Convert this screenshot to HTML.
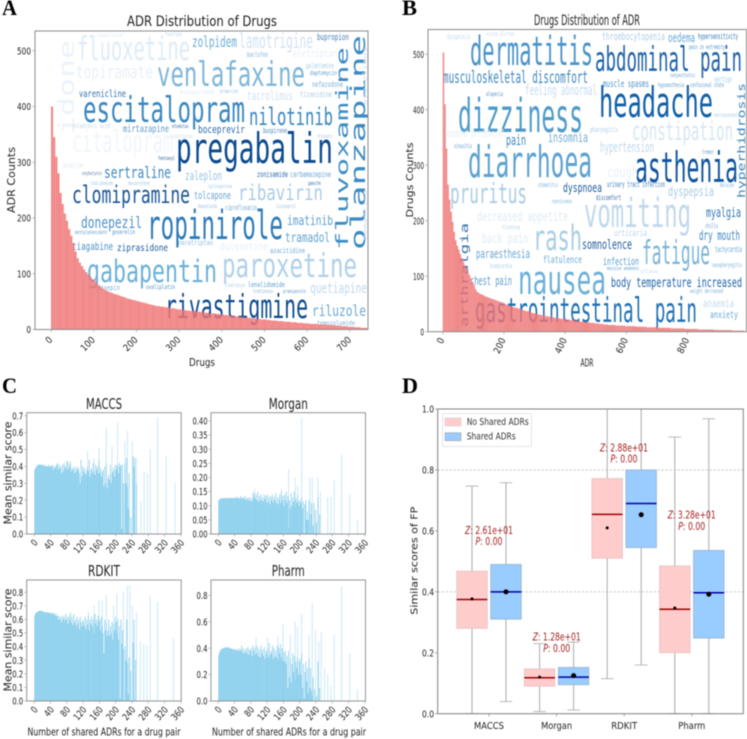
<!DOCTYPE html>
<html lang="en">
<head>
<meta charset="utf-8">
<title>ADR and drug similarity figure</title>
<style>
html,body{margin:0;padding:0;background:#fff;width:747px;height:739px;overflow:hidden}
svg{display:block;filter:blur(.4px)}
.w{font-family:"DejaVu Sans Mono","Liberation Mono",monospace}
.t{font-family:"DejaVu Sans","Liberation Sans",sans-serif}
.p{font-family:"Liberation Serif",serif;font-weight:bold;font-size:22px;fill:#000}
</style>
</head>
<body>
<svg id="figure" xmlns="http://www.w3.org/2000/svg" width="747" height="739" viewBox="0 0 747 739">
<defs>
<clipPath id="clip-a"><rect x="35" y="31" width="333" height="298.5"/></clipPath>
<clipPath id="clip-b"><rect x="428" y="29.5" width="319" height="302.2"/></clipPath>
</defs>
<rect width="747" height="739" fill="#fff"/>

<text class="p" x="2" y="15" textLength="15" lengthAdjust="spacingAndGlyphs">A</text>
<text class="p" x="402" y="15" textLength="15" lengthAdjust="spacingAndGlyphs">B</text>
<text class="p" x="2" y="393" textLength="15" lengthAdjust="spacingAndGlyphs">C</text>
<text class="p" x="402" y="393" textLength="16" lengthAdjust="spacingAndGlyphs">D</text>

<g id="cloud-a" clip-path="url(#clip-a)">
<text class="w" transform="rotate(-90 74 135)" x="74" y="135" font-size="22" fill="#ecf3fb" textLength="95" lengthAdjust="spacingAndGlyphs">idone</text>
<text class="w" x="72" y="152" font-size="30" fill="#f1f6fc" textLength="101" lengthAdjust="spacingAndGlyphs">citalopram</text>
<text class="w" x="77" y="60" font-size="33" fill="#dfecf7" textLength="113" lengthAdjust="spacingAndGlyphs">fluoxetine</text>
<text class="w" x="192" y="47" font-size="15" fill="#6baed6" textLength="45" lengthAdjust="spacingAndGlyphs">zolpidem</text>
<text class="w" x="239" y="48" font-size="20" fill="#d2e2f2" textLength="74" lengthAdjust="spacingAndGlyphs">lamotrigine</text>
<text class="w" x="317" y="40" font-size="9" fill="#3f7fb8" textLength="32" lengthAdjust="spacingAndGlyphs">bupropion</text>
<text class="w" x="157" y="86" font-size="34" fill="#7fb6d9" textLength="148" lengthAdjust="spacingAndGlyphs">venlafaxine</text>
<text class="w" x="76" y="78" font-size="18" fill="#e8f1f9" textLength="77" lengthAdjust="spacingAndGlyphs">topiramate</text>
<text class="w" x="79" y="97" font-size="10" fill="#2f6fae" textLength="47" lengthAdjust="spacingAndGlyphs">varenicline</text>
<text class="w" x="83" y="122" font-size="36" fill="#3a87c0" textLength="162" lengthAdjust="spacingAndGlyphs">escitalopram</text>
<text class="w" x="249" y="125" font-size="24" fill="#3a86bf" textLength="84" lengthAdjust="spacingAndGlyphs">nilotinib</text>
<text class="w" x="247" y="100" font-size="12" fill="#d0e1f2" textLength="46" lengthAdjust="spacingAndGlyphs">tacrolimus</text>
<text class="w" x="300" y="97" font-size="8" fill="#a9cde4" textLength="32" lengthAdjust="spacingAndGlyphs">tizanidine</text>
<text class="w" x="312" y="87" font-size="8" fill="#7ab2d8" textLength="31" lengthAdjust="spacingAndGlyphs">nefazodone</text>
<text class="w" x="306" y="68" font-size="7" fill="#a9cde4" textLength="28" lengthAdjust="spacingAndGlyphs">galantamine</text>
<text class="w" x="310" y="75" font-size="6" fill="#5d9cca" textLength="27" lengthAdjust="spacingAndGlyphs">daptomycin</text>
<text class="w" x="293" y="57" font-size="11" fill="#e8f1fa" textLength="44" lengthAdjust="spacingAndGlyphs">eletriptan</text>
<text class="w" x="247" y="57" font-size="7" fill="#7ab2d8" textLength="21" lengthAdjust="spacingAndGlyphs">baclofen</text>
<text class="w" x="123" y="132" font-size="10" fill="#5a9bc9" textLength="46" lengthAdjust="spacingAndGlyphs">mirtazapine</text>
<text class="w" x="198" y="133" font-size="11" fill="#2e6dab" textLength="47" lengthAdjust="spacingAndGlyphs">boceprevir</text>
<text class="w" x="263" y="133" font-size="7" fill="#3f80b9" textLength="24" lengthAdjust="spacingAndGlyphs">buspirone</text>
<text class="w" x="72" y="128" font-size="6" fill="#bcd5ea" textLength="38" lengthAdjust="spacingAndGlyphs">zoledronic acid</text>
<text class="w" x="176" y="163" font-size="42" fill="#0b4a8e" textLength="157" lengthAdjust="spacingAndGlyphs">pregabalin</text>
<text class="w" x="104" y="178" font-size="16" fill="#3d86bf" textLength="67" lengthAdjust="spacingAndGlyphs">sertraline</text>
<text class="w" x="185" y="180" font-size="12" fill="#9ac4e0" textLength="37" lengthAdjust="spacingAndGlyphs">zaleplon</text>
<text class="w" x="257" y="177" font-size="8" fill="#2a6aa8" textLength="31" lengthAdjust="spacingAndGlyphs">zonisamide</text>
<text class="w" x="290" y="177" font-size="8" fill="#69a6d2" textLength="41" lengthAdjust="spacingAndGlyphs">carbamazepine</text>
<text class="w" x="63" y="168" font-size="8" fill="#dfeaf6" textLength="20" lengthAdjust="spacingAndGlyphs">selegiline</text>
<text class="w" transform="rotate(-90 365 250)" x="365" y="250" font-size="20" fill="#3d8ac2" textLength="215" lengthAdjust="spacingAndGlyphs">olanzapine</text>
<text class="w" transform="rotate(-90 348 250)" x="348" y="250" font-size="17" fill="#3d8cc4" textLength="203" lengthAdjust="spacingAndGlyphs">fluvoxamine</text>
<text class="w" x="72" y="203" font-size="24" fill="#1a5596" textLength="118" lengthAdjust="spacingAndGlyphs">clomipramine</text>
<text class="w" x="194" y="199" font-size="11" fill="#6aa6d3" textLength="37" lengthAdjust="spacingAndGlyphs">tolcapone</text>
<text class="w" x="238" y="200" font-size="21" fill="#a8cce5" textLength="85" lengthAdjust="spacingAndGlyphs">ribavirin</text>
<text class="w" x="81" y="228" font-size="16" fill="#4c92c8" textLength="61" lengthAdjust="spacingAndGlyphs">donepezil</text>
<text class="w" x="147" y="239" font-size="40" fill="#2d7bb9" textLength="136" lengthAdjust="spacingAndGlyphs">ropinirole</text>
<text class="w" x="287" y="225" font-size="13" fill="#5da0cf" textLength="46" lengthAdjust="spacingAndGlyphs">imatinib</text>
<text class="w" x="285" y="242" font-size="13" fill="#62a4cf" textLength="45" lengthAdjust="spacingAndGlyphs">tramadol</text>
<text class="w" x="72" y="250" font-size="11" fill="#4d93c9" textLength="41" lengthAdjust="spacingAndGlyphs">tiagabine</text>
<text class="w" x="117" y="251" font-size="10" fill="#1f5c9e" textLength="51" lengthAdjust="spacingAndGlyphs">ziprasidone</text>
<text class="w" x="178" y="245" font-size="7" fill="#8fbbdc" textLength="35" lengthAdjust="spacingAndGlyphs">naratriptan</text>
<text class="w" x="220" y="250" font-size="11" fill="#e5eff8" textLength="48" lengthAdjust="spacingAndGlyphs">duloxetine</text>
<text class="w" x="270" y="253" font-size="7" fill="#6aa6d3" textLength="35" lengthAdjust="spacingAndGlyphs">azacitidine</text>
<text class="w" x="87" y="282" font-size="31" fill="#6db0d8" textLength="130" lengthAdjust="spacingAndGlyphs">gabapentin</text>
<text class="w" x="222" y="277" font-size="33" fill="#b0d0e8" textLength="135" lengthAdjust="spacingAndGlyphs">paroxetine</text>
<text class="w" x="310" y="293" font-size="14" fill="#c0d9ec" textLength="57" lengthAdjust="spacingAndGlyphs">quetiapine</text>
<text class="w" x="312" y="316" font-size="15" fill="#69a8d4" textLength="54" lengthAdjust="spacingAndGlyphs">riluzole</text>
<text class="w" x="165" y="318" font-size="33" fill="#0e4a8e" textLength="143" lengthAdjust="spacingAndGlyphs">rivastigmine</text>
<text class="w" x="146" y="289" font-size="6" fill="#4d93c9" textLength="29" lengthAdjust="spacingAndGlyphs">oxaliplatin</text>
<text class="w" x="248" y="287" font-size="7" fill="#5b9ccb" textLength="37" lengthAdjust="spacingAndGlyphs">lenalidomide</text>
<text class="w" x="75" y="234" font-size="5" fill="#5d9cca" textLength="32" lengthAdjust="spacingAndGlyphs">methylphenidate</text>
<text class="w" x="112" y="234" font-size="6" fill="#4d93c9" textLength="23" lengthAdjust="spacingAndGlyphs">goserelin</text>
<text class="w" x="225" y="210" font-size="7" fill="#6aa6d3" textLength="32" lengthAdjust="spacingAndGlyphs">ciprofloxacin</text>
<text class="w" x="198" y="208" font-size="5" fill="#8fbbdc" textLength="19" lengthAdjust="spacingAndGlyphs">dasatinib</text>
<text class="w" x="276" y="208" font-size="5" fill="#8fbbdc" textLength="20" lengthAdjust="spacingAndGlyphs">lisinopril</text>
<text class="w" x="97" y="290" font-size="7" fill="#7ab2d8" textLength="23" lengthAdjust="spacingAndGlyphs">doxepin</text>
<text class="w" x="225" y="287" font-size="5" fill="#a9cde4" textLength="20" lengthAdjust="spacingAndGlyphs">cladribine</text>
<text class="w" x="283" y="293" font-size="5" fill="#5d9cca" textLength="23" lengthAdjust="spacingAndGlyphs">pramipexole</text>
<text class="w" x="253" y="293" font-size="5" fill="#7ab2d8" textLength="20" lengthAdjust="spacingAndGlyphs">tretinoin</text>
<text class="w" x="317" y="325" font-size="6" fill="#7ab2d8" textLength="38" lengthAdjust="spacingAndGlyphs">temozolomide</text>
<text class="w" x="180" y="94" font-size="6" fill="#dce9f5" textLength="34" lengthAdjust="spacingAndGlyphs">eszopiclone</text>
<text class="w" x="220" y="93" font-size="5" fill="#9cc5e1" textLength="18" lengthAdjust="spacingAndGlyphs">mifamurtide</text>
<text class="w" x="97" y="37" font-size="5" fill="#dce9f5" textLength="26" lengthAdjust="spacingAndGlyphs">sumatriptan</text>
<text class="w" x="165" y="36" font-size="5" fill="#bcd5ea" textLength="17" lengthAdjust="spacingAndGlyphs">frovatriptan</text>
<text class="w" x="172" y="128" font-size="5" fill="#2e6dab" textLength="17" lengthAdjust="spacingAndGlyphs">etodolac</text>
<text class="w" x="170" y="138" font-size="5" fill="#c6dcef" textLength="23" lengthAdjust="spacingAndGlyphs">rizatriptan</text>
<text class="w" x="317" y="138" font-size="5" fill="#a9cde4" textLength="15" lengthAdjust="spacingAndGlyphs">felbamate</text>
<text class="w" x="158" y="160" font-size="5" fill="#1f5c9e" textLength="17" lengthAdjust="spacingAndGlyphs">fentanyl</text>
<text class="w" x="82" y="175" font-size="5" fill="#5a7fa8" textLength="20" lengthAdjust="spacingAndGlyphs">oxybutynin</text>
<text class="w" x="91" y="185" font-size="5" fill="#9cc5e1" textLength="22" lengthAdjust="spacingAndGlyphs">thalidomide</text>
<text class="w" x="128" y="185" font-size="5" fill="#9cc5e1" textLength="22" lengthAdjust="spacingAndGlyphs">bexarotene</text>
<text class="w" x="208" y="188" font-size="5" fill="#9cc5e1" textLength="24" lengthAdjust="spacingAndGlyphs">cyclosporine</text>
<text class="w" x="308" y="185" font-size="5" fill="#2e6dab" textLength="13" lengthAdjust="spacingAndGlyphs">tamoxifen</text>
<text class="w" transform="rotate(-90 367 105)" x="367" y="105" font-size="6" fill="#cfe0f0" textLength="58" lengthAdjust="spacingAndGlyphs">everolimus</text>
<text class="w" transform="rotate(-90 367 240)" x="367" y="240" font-size="6" fill="#cfe0f0" textLength="50" lengthAdjust="spacingAndGlyphs">memantine</text>
</g>
<g id="bars-a"></g>
<g id="axes-a"></g>

<g id="cloud-b" clip-path="url(#clip-b)">
<text class="w" x="470" y="65" font-size="40" fill="#4a94c8" textLength="123" lengthAdjust="spacingAndGlyphs">dermatitis</text>
<text class="w" x="595" y="71" font-size="34" fill="#1f62a8" textLength="147" lengthAdjust="spacingAndGlyphs">abdominal pain</text>
<text class="w" x="602" y="40" font-size="11" fill="#b0d0e8" textLength="63" lengthAdjust="spacingAndGlyphs">thrombocytopenia</text>
<text class="w" x="668" y="42" font-size="12" fill="#69a8d4" textLength="27" lengthAdjust="spacingAndGlyphs">oedema</text>
<text class="w" x="698" y="39" font-size="8" fill="#2e78b5" textLength="40" lengthAdjust="spacingAndGlyphs">hypersensitivity</text>
<text class="w" x="689" y="49" font-size="6" fill="#4d93c9" textLength="36" lengthAdjust="spacingAndGlyphs">pain in extremity</text>
<text class="w" x="443" y="83" font-size="17" fill="#3d86bf" textLength="145" lengthAdjust="spacingAndGlyphs">musculoskeletal discomfort</text>
<text class="w" x="525" y="95" font-size="14" fill="#c6dcef" textLength="72" lengthAdjust="spacingAndGlyphs">feeling abnormal</text>
<text class="w" x="603" y="87" font-size="10" fill="#4a94c8" textLength="46" lengthAdjust="spacingAndGlyphs">muscle spasms</text>
<text class="w" x="658" y="87" font-size="6" fill="#5b9ccb" textLength="26" lengthAdjust="spacingAndGlyphs">hypoaesthesia</text>
<text class="w" x="690" y="87" font-size="6" fill="#5b9ccb" textLength="34" lengthAdjust="spacingAndGlyphs">confusional state</text>
<text class="w" x="714" y="82" font-size="8" fill="#a9cde4" textLength="18" lengthAdjust="spacingAndGlyphs">vertigo</text>
<text class="w" x="670" y="77" font-size="5" fill="#4d93c9" textLength="25" lengthAdjust="spacingAndGlyphs">conjunctivitis</text>
<text class="w" x="599" y="117" font-size="42" fill="#1260a8" textLength="114" lengthAdjust="spacingAndGlyphs">headache</text>
<text class="w" x="458" y="132" font-size="46" fill="#4f9acb" textLength="125" lengthAdjust="spacingAndGlyphs">dizziness</text>
<text class="w" x="486" y="96" font-size="6" fill="#4d93c9" textLength="17" lengthAdjust="spacingAndGlyphs">alopecia</text>
<text class="w" x="714" y="117" font-size="6" fill="#a9cde4" textLength="26" lengthAdjust="spacingAndGlyphs">nervousness</text>
<text class="w" x="632" y="140" font-size="26" fill="#d6e6f4" textLength="101" lengthAdjust="spacingAndGlyphs">constipation</text>
<text class="w" x="590" y="132" font-size="7" fill="#a9cde4" textLength="28" lengthAdjust="spacingAndGlyphs">pharyngitis</text>
<text class="w" x="548" y="142" font-size="13" fill="#73add6" textLength="40" lengthAdjust="spacingAndGlyphs">insomnia</text>
<text class="w" x="506" y="145" font-size="14" fill="#3d86bf" textLength="20" lengthAdjust="spacingAndGlyphs">pain</text>
<text class="w" x="447" y="137" font-size="11" fill="#e5eff8" textLength="58" lengthAdjust="spacingAndGlyphs">oedema peripheral</text>
<text class="w" x="600" y="152" font-size="14" fill="#c0d8ec" textLength="54" lengthAdjust="spacingAndGlyphs">hypertension</text>
<text class="w" x="468" y="177" font-size="44" fill="#5da2d0" textLength="124" lengthAdjust="spacingAndGlyphs">diarrhoea</text>
<text class="w" x="635" y="182" font-size="42" fill="#11549c" textLength="103" lengthAdjust="spacingAndGlyphs">asthenia</text>
<text class="w" x="607" y="177" font-size="14" fill="#e8f1fa" textLength="31" lengthAdjust="spacingAndGlyphs">cough</text>
<text class="w" x="454" y="148" font-size="6" fill="#5b9ccb" textLength="18" lengthAdjust="spacingAndGlyphs">sinusitis</text>
<text class="w" x="702" y="154" font-size="6" fill="#5b9ccb" textLength="12" lengthAdjust="spacingAndGlyphs">tremor</text>
<text class="w" x="447" y="39" font-size="7" fill="#c6dcef" textLength="23" lengthAdjust="spacingAndGlyphs">dysgeusia</text>
<text class="w" x="486" y="36" font-size="6" fill="#c6dcef" textLength="28" lengthAdjust="spacingAndGlyphs">vision blurred</text>
<text class="w" transform="rotate(-90 745 198)" x="745" y="198" font-size="11" fill="#3d86bf" textLength="115" lengthAdjust="spacingAndGlyphs">hyperhidrosis</text>
<text class="w" x="450" y="203" font-size="28" fill="#a9cde4" textLength="77" lengthAdjust="spacingAndGlyphs">pruritus</text>
<text class="w" x="563" y="192" font-size="12" fill="#1f5c9e" textLength="39" lengthAdjust="spacingAndGlyphs">dyspnoea</text>
<text class="w" x="607" y="187" font-size="8" fill="#3f7fb8" textLength="58" lengthAdjust="spacingAndGlyphs">urinary tract infection</text>
<text class="w" x="668" y="196" font-size="13" fill="#a9cde4" textLength="46" lengthAdjust="spacingAndGlyphs">dyspepsia</text>
<text class="w" x="538" y="187" font-size="6" fill="#7ab2d8" textLength="20" lengthAdjust="spacingAndGlyphs">stomatitis</text>
<text class="w" x="720" y="187" font-size="6" fill="#7ab2d8" textLength="14" lengthAdjust="spacingAndGlyphs">malaise</text>
<text class="w" x="584" y="227" font-size="40" fill="#c0d8ec" textLength="107" lengthAdjust="spacingAndGlyphs">vomiting</text>
<text class="w" x="596" y="200" font-size="7" fill="#2e6dab" textLength="25" lengthAdjust="spacingAndGlyphs">discomfort</text>
<text class="w" x="552" y="203" font-size="5" fill="#7ab2d8" textLength="20" lengthAdjust="spacingAndGlyphs">hyperglycaemia</text>
<text class="w" x="706" y="217" font-size="13" fill="#2e78b5" textLength="35" lengthAdjust="spacingAndGlyphs">myalgia</text>
<text class="w" x="477" y="221" font-size="13" fill="#e0ecf7" textLength="91" lengthAdjust="spacingAndGlyphs">decreased appetite</text>
<text class="w" x="533" y="250" font-size="35" fill="#a9cde4" textLength="49" lengthAdjust="spacingAndGlyphs">rash</text>
<text class="w" x="482" y="243" font-size="13" fill="#e0ecf7" textLength="46" lengthAdjust="spacingAndGlyphs">back pain</text>
<text class="w" x="614" y="236" font-size="9" fill="#bcd5ea" textLength="33" lengthAdjust="spacingAndGlyphs">urticaria</text>
<text class="w" x="705" y="228" font-size="6" fill="#5b9ccb" textLength="13" lengthAdjust="spacingAndGlyphs">chills</text>
<text class="w" x="699" y="240" font-size="13" fill="#3d86bf" textLength="41" lengthAdjust="spacingAndGlyphs">dry mouth</text>
<text class="w" x="582" y="249" font-size="13" fill="#1f5c9e" textLength="50" lengthAdjust="spacingAndGlyphs">somnolence</text>
<text class="w" x="642" y="264" font-size="33" fill="#7ab6da" textLength="68" lengthAdjust="spacingAndGlyphs">fatigue</text>
<text class="w" x="715" y="252" font-size="8" fill="#69a8d4" textLength="27" lengthAdjust="spacingAndGlyphs">tachycardia</text>
<text class="w" x="476" y="258" font-size="12" fill="#6aa6d3" textLength="54" lengthAdjust="spacingAndGlyphs">paraesthesia</text>
<text class="w" x="543" y="263" font-size="10" fill="#6aa6d3" textLength="39" lengthAdjust="spacingAndGlyphs">flatulence</text>
<text class="w" x="603" y="265" font-size="11" fill="#5da0cf" textLength="36" lengthAdjust="spacingAndGlyphs">infection</text>
<text class="w" x="712" y="267" font-size="6" fill="#7ab2d8" textLength="30" lengthAdjust="spacingAndGlyphs">nasopharyngitis</text>
<text class="w" x="490" y="268" font-size="6" fill="#a9cde4" textLength="22" lengthAdjust="spacingAndGlyphs">bradycardia</text>
<text class="w" x="502" y="229" font-size="5" fill="#a9cde4" textLength="18" lengthAdjust="spacingAndGlyphs">flushing</text>
<text class="w" x="518" y="294" font-size="40" fill="#6db0d8" textLength="88" lengthAdjust="spacingAndGlyphs">nausea</text>
<text class="w" x="470" y="285" font-size="12" fill="#5da0cf" textLength="42" lengthAdjust="spacingAndGlyphs">chest pain</text>
<text class="w" transform="rotate(-90 468 327)" x="468" y="327" font-size="11" fill="#2e6dab" textLength="104" lengthAdjust="spacingAndGlyphs">arthralgia</text>
<text class="w" x="611" y="287" font-size="13" fill="#1f62a8" textLength="131" lengthAdjust="spacingAndGlyphs">body temperature increased</text>
<text class="w" x="690" y="293" font-size="6" fill="#7ab2d8" textLength="33" lengthAdjust="spacingAndGlyphs">weight decreased</text>
<text class="w" x="703" y="307" font-size="11" fill="#c6dcef" textLength="31" lengthAdjust="spacingAndGlyphs">anaemia</text>
<text class="w" x="710" y="318" font-size="10" fill="#69a8d4" textLength="28" lengthAdjust="spacingAndGlyphs">anxiety</text>
<text class="w" x="475" y="322" font-size="34" fill="#2070b4" textLength="222" lengthAdjust="spacingAndGlyphs">gastrointestinal pain</text>
<text class="w" x="640" y="273" font-size="5" fill="#c6dcef" textLength="18" lengthAdjust="spacingAndGlyphs">influenza</text>
<text class="w" x="607" y="270" font-size="5" fill="#5b9ccb" textLength="32" lengthAdjust="spacingAndGlyphs">muscular weakness</text>
</g>
<g id="bars-b"></g>
<g id="axes-b"></g>

<g id="panel-c"></g>
<g id="panel-d"></g>

<g class="t" fill="#a52020" font-size="10.5" text-anchor="middle">
<text x="489" y="534" textLength="48" lengthAdjust="spacingAndGlyphs"><tspan font-style="italic">Z</tspan>: 2.61e+01</text>
<text x="489" y="545" textLength="27" lengthAdjust="spacingAndGlyphs"><tspan font-style="italic">P</tspan>: 0.00</text>
<text x="556.7" y="640.7" textLength="48" lengthAdjust="spacingAndGlyphs"><tspan font-style="italic">Z</tspan>: 1.28e+01</text>
<text x="556.7" y="652" textLength="27" lengthAdjust="spacingAndGlyphs"><tspan font-style="italic">P</tspan>: 0.00</text>
<text x="624" y="451.7" textLength="48" lengthAdjust="spacingAndGlyphs"><tspan font-style="italic">Z</tspan>: 2.88e+01</text>
<text x="624" y="462.7" textLength="27" lengthAdjust="spacingAndGlyphs"><tspan font-style="italic">P</tspan>: 0.00</text>
<text x="691.7" y="518.3" textLength="48" lengthAdjust="spacingAndGlyphs"><tspan font-style="italic">Z</tspan>: 3.28e+01</text>
<text x="691.7" y="530" textLength="27" lengthAdjust="spacingAndGlyphs"><tspan font-style="italic">P</tspan>: 0.00</text>
</g>

<g>
<rect x="442.5" y="413.5" width="89" height="33" fill="#fff" fill-opacity=".85" stroke="#ddd" stroke-width=".8" rx="1.5"/>
<rect x="445" y="418" width="16" height="8" fill="#ffcccc" stroke="#ccc" stroke-width=".5"/>
<rect x="445" y="432.7" width="16" height="8" fill="#99ccff" stroke="#999" stroke-width=".5"/>
<text class="t" x="466.7" y="425" font-size="10" fill="#333" textLength="62" lengthAdjust="spacingAndGlyphs">No Shared ADRs</text>
<text class="t" x="466.7" y="439.3" font-size="10" fill="#333" textLength="49" lengthAdjust="spacingAndGlyphs">Shared ADRs</text>
</g>
</svg>

<script>
/* Panel A: ADR count per drug, drugs ranked, one value every 5 ranks */
const drugRankStep = 5;
const drugAdrCounts = [400,345,310,280,245,225,208,195,180,168,155,140,128,120,114,108,103,99,94,90,87,83,79,76,73,71,69,67,66,64,63,62,60,59,58,56,55,54,53,52,51,50,49,48,47,46,45,44,43,42,42,41,41,40,40,39,38,38,37,36,36,35,35,34,34,33,33,33,32,32,31,31,30,30,29,29,29,28,28,27,27,26,26,25,25,24,24,23,23,22,22,21,21,21,20,20,19,19,18,18,18,17,17,16,16,16,15,15,15,14,14,14,13,13,13,12,12,12,11,11,11,10,10,10,10,9,9,9,9,8,8,8,8,7,7,7,6,6,6,5,5,5,4,4,4,3,3,3,2,2];
const drugXTicks = [0,100,200,300,400,500,600,700];
const drugYTicks = [0,100,200,300,400,500];

/* Panel B: drug count per ADR, ADRs ranked, one value every 5 ranks */
const adrRankStep = 5;
const adrDrugCounts = [503,410,330,265,238,216,198,180,165,155,148,140,133,126,120,114,108,102,96,90,84,77,72,70,68,67,66,64,63,62,61,60,59,58,57,56,55,54,53,52,51,49,48,47,46,45,44,43,43,42,41,40,39,38,37,37,36,35,34,33,33,32,31,31,30,29,29,28,28,27,27,26,26,25,25,24,24,23,23,23,22,22,22,21,21,21,20,20,19,19,18,18,18,17,17,17,16,16,16,15,15,15,14,14,14,13,13,13,12,12,12,12,12,11,11,11,11,11,11,10,10,10,10,10,10,10,9,9,9,9,9,9,9,8,8,8,8,8,8,8,8,7,7,7,7,7,7,7,7,6,6,6,6,6,6,6,6,6,5,5,5,5,5,5,5,5,5,4,4,4,4,4,4,4,4,4,4,3,3,3,3,3,3,3,3,3,3,3,3,2,2,2,2,2,2,2,2];
const adrXTicks = [0,200,400,600,800];
const adrYTicks = [0,100,200,300,400,500];

/* Panel C: mean similar score by number of shared ADRs */
const sharedStep = 2;
const maccsScores = [.38,.39,.40,.405,.41,.41,.41,.41,.41,.41,.41,.40,.41,.405,.40,.40,.40,.41,.40,.40,.40,.41,.40,.38,.405,.39,.40,.41,.42,.38,.41,.39,.40,.36,.41,.37,.42,.39,.40,.43,.38,.43,.39,.41,.43,.37,.39,.38,.40,.36,.39,.37,.40,.38,.39,.36,.30,.44,.34,.40,.37,.39,.36,.35,.38,.40,.37,.44,.34,.38,.39,.36,.42,.37,.35,.41,.38,.40,.36,.44,.36,.39,.34,.37,.38,.28,.40,.30,.42,.27,.33,.35,.32,.41,.30,.36,.37,.39,.34,.41,.38,.41,.40,.36,.42,.40,.41,.03,.41,.30,0,.42,.30,.45,.28,.15,.36,0,.10,0,0,.46,.40,.45,0,.30];
const morganScores = [.12,.122,.125,.126,.127,.127,.127,.127,.127,.127,.127,.127,.127,.127,.127,.128,.127,.127,.128,.127,.127,.132,.127,.128,.13,.126,.125,.135,.128,.125,.13,.125,.135,.12,.13,.122,.128,.12,.13,.118,.125,.115,.145,.13,.148,.125,.14,.12,.15,.115,.135,.12,.14,.118,.13,.115,.14,.125,.135,.11,.14,.115,.13,.105,.135,.12,.14,.11,.13,.12,.145,.11,.13,.105,.125,.14,.11,.15,.12,.135,.10,.14,.12,.15,.11,.135,.02,.12,.09,.145,.10,.13,.115,.15,.095,.125,.11,.14,.115,.10,.12,.11,.13,.09,.115,0,.105,.12,.05,.08,.05,.12,0,.07,.11,0,.03,.11,0,.085,.04,0,.13,0,.07,0];
const rdkitScores = [.63,.645,.65,.655,.66,.66,.665,.665,.66,.665,.66,.655,.655,.65,.655,.65,.655,.65,.65,.645,.65,.645,.64,.65,.64,.63,.645,.625,.63,.60,.625,.60,.62,.58,.63,.60,.62,.59,.64,.60,.62,.57,.63,.60,.65,.58,.62,.56,.64,.58,.60,.55,.62,.57,.60,.53,.62,.58,.55,.60,.58,.55,.62,.53,.60,.56,.63,.52,.60,.57,.62,.55,.60,.50,.64,.57,.60,.55,.63,.58,.60,.52,.62,.55,.50,.35,.60,.52,.58,.48,.52,.60,.48,.55,.50,.58,.45,.57,.52,.62,.58,.50,.60,.45,.55,.02,.60,.42,.52,.38,0,.40,.30,.60,.28,.05,.32,0,.22,0,0,.43,.60,0,.30,0];
const pharmScores = [.35,.37,.385,.39,.395,.40,.40,.405,.405,.405,.405,.41,.405,.40,.40,.40,.395,.395,.39,.39,.395,.385,.39,.38,.40,.38,.39,.385,.42,.37,.40,.36,.39,.37,.40,.36,.41,.35,.39,.38,.40,.34,.42,.38,.40,.35,.42,.36,.41,.34,.39,.33,.42,.36,.39,.34,.41,.32,.38,.36,.40,.33,.44,.35,.38,.36,.42,.32,.40,.34,.38,.33,.42,.31,.40,.36,.43,.33,.40,.30,.37,.30,.38,.28,.34,.10,.38,.18,.32,.14,.28,.36,.22,.34,.16,.30,.25,.33,.20,.30,.32,.20,.36,.10,.28,.02,.22,.30,.15,.25,.06,.32,.10,.25,.08,.04,.18,0,.09,0,.04,0,.30,0,.10,0];
const maccsPeakPairs = [130,146,158,176,190,204,222,228,240,250,261,269,277,284,302,323,345];
const maccsPeaks = [.49,.45,.51,.63,.52,.66,.55,.61,.55,.45,.19,.37,.36,.50,.69,.46,.30];
const morganPeakPairs = [88,154,172,188,194,204,224,230,244,250,268,276,284,302,322,341];
const morganPeaks = [.16,.16,.23,.20,.17,.41,.20,.20,.20,.15,.13,.13,.19,.28,.14,.05];
const rdkitPeakPairs = [132,146,158,166,176,194,202,218,228,234,240,250,260,268,276,284,302,341];
const rdkitPeaks = [.66,.70,.74,.74,.78,.70,.79,.80,.85,.85,.70,.65,.44,.42,.41,.77,.73,.46];
const pharmPeakPairs = [92,120,146,158,176,188,194,204,222,230,238,246,252,260,268,276,284,302,322,341];
const pharmPeaks = [.48,.48,.49,.58,.50,.60,.56,.66,.50,.74,.54,.45,.52,.25,.20,.12,.50,.87,.36,.09];
const sharedTicks = [0,40,80,120,160,200,240,280,320,360];
const maccsTicks = [0,.1,.2,.3,.4,.5,.6,.7];
const morganTicks = [0,.05,.1,.15,.2,.25,.3,.35,.4];
const rdkitTicks = [0,.1,.2,.3,.4,.5,.6,.7,.8];
const pharmTicks = [0,.2,.4,.6,.8];

/* Panel D: box plot statistics */
const fpCategories = ['MACCS','Morgan','RDKIT','Pharm'];
const noLo = [0,.007,.115,0];
const noQ1 = [.28,.09,.51,.20];
const noMed = [.375,.118,.654,.343];
const noQ3 = [.468,.147,.772,.485];
const noHi = [.747,.23,1,.908];
const noMean = [.377,.12,.61,.347];
const yesLo = [.04,.012,.16,0];
const yesQ1 = [.31,.095,.545,.248];
const yesMed = [.40,.12,.69,.397];
const yesQ3 = [.49,.152,.80,.536];
const yesHi = [.758,.235,1,.968];
const yesMean = [.40,.125,.653,.392];
const fpTicks = [0,.2,.4,.6,.8,1];
const fpGridLines = [.4,.8];
const fpLabelWidths = [30,31,26,27];

const SVGNS = 'http://www.w3.org/2000/svg';
function shape(parent, tag, name, props) {
  const el = document.createElementNS(SVGNS, tag);
  
  
  for (const k in props) el.setAttribute(k, props[k]);
  parent.appendChild(el);
  return el;
}
function label(parent, name, str, x, y, size, len, anchor, rot, fill) {
  const props = {x: x, y: y, 'font-size': size, 'text-anchor': anchor || 'middle', fill: fill || '#222', class: 't'};
  if (len) { props.textLength = len; props.lengthAdjust = 'spacingAndGlyphs'; }
  if (rot) props.transform = 'rotate(' + rot + ' ' + x + ' ' + y + ')';
  const el = shape(parent, 'text', name, props);
  el.textContent = str;
  return el;
}
function frame(parent, name, l, t, r, b, color, w) {
  shape(parent, 'rect', name, {x: l, y: t, width: r - l, height: b - t, fill: 'none', stroke: color, 'stroke-width': w});
}
function line(parent, name, x1, y1, x2, y2, color, w, dash) {
  const p = {x1: x1, y1: y1, x2: x2, y2: y2, stroke: color, 'stroke-width': w};
  if (dash) p['stroke-dasharray'] = dash;
  shape(parent, 'line', name, p);
}

/* Ranked bar charts with word-cloud backdrops */
function rankedChart(cfg) {
  const x = r => cfg.x0 + r * cfg.xs;
  const y = v => cfg.y0 - v * cfg.ys;
  const w = cfg.step * cfg.xs;
  cfg.values.forEach((v, i) => {
    const bx = x(i * cfg.step);
    if (bx >= cfg.r) return;
    shape(cfg.bars, 'rect', cfg.prefix + '-bar', {x: bx.toFixed(2), y: y(v).toFixed(2), width: Math.min(w, cfg.r - bx).toFixed(2), height: (v * cfg.ys).toFixed(2), fill: '#ef7676', 'fill-opacity': '.86'});
  });
  frame(cfg.axes, cfg.prefix + '-spines', cfg.l, cfg.t, cfg.r, cfg.y0, '#8a8a8a', 1);
  cfg.yTicks.forEach(v => {
    line(cfg.axes, cfg.prefix + '-y-tick', cfg.l - 2.5, y(v), cfg.l, y(v), '#999', .7);
    label(cfg.axes, cfg.prefix + '-y-tick-label', String(v), cfg.l - 4, y(v) + 3.6, 10, v ? cfg.yLen : cfg.yLen / 3, 'end');
  });
  cfg.xTicks.forEach(v => {
    line(cfg.axes, cfg.prefix + '-x-tick', x(v), cfg.y0, x(v), cfg.y0 + 2.5, '#999', .7);
    label(cfg.axes, cfg.prefix + '-x-tick-label', String(v), x(v) + 2, cfg.y0 + cfg.xOff, 9.5, v ? cfg.xLen : cfg.xLen / 3, 'end', cfg.rot);
  });
}
rankedChart({prefix: 'drug', bars: document.getElementById('bars-a'), axes: document.getElementById('axes-a'), values: drugAdrCounts, step: drugRankStep, x0: 51, xs: .427, y0: 329.5, ys: .5575, l: 35, r: 368, t: 31, yTicks: drugYTicks, xTicks: drugXTicks, yLen: 14, xLen: 16, xOff: 11, rot: -45});
rankedChart({prefix: 'adr', bars: document.getElementById('bars-b'), axes: document.getElementById('axes-b'), values: adrDrugCounts, step: adrRankStep, x0: 442.7, xs: .306, y0: 331.7, ys: .555, l: 428, r: 746.5, t: 29.5, yTicks: adrYTicks, xTicks: adrXTicks, yLen: 11, xLen: 16, xOff: 8, rot: -65});

const axesA = document.getElementById('axes-a');
const axesB = document.getElementById('axes-b');
label(axesA, 'drug-chart-title', 'ADR Distribution of Drugs', 202, 26, 14, 150);
label(axesA, 'drug-y-axis-title', 'ADR Counts', 15, 180, 11, 66, 'middle', -90);
label(axesA, 'drug-x-axis-title', 'Drugs', 202, 366, 11, 26);
label(axesB, 'adr-chart-title', 'Drugs Distribution of ADR', 587, 25, 14, 106);
label(axesB, 'adr-y-axis-title', 'Drugs Counts', 413, 180, 10, 75, 'middle', -90);
label(axesB, 'adr-x-axis-title', 'ADR', 587, 366.7, 10.5, 13);

/* Panel C: four bar charts */
const panelC = document.getElementById('panel-c');
function scoreChart(cfg) {
  const x = u => cfg.x0 + u * .407;
  const y = v => cfg.y0 - v * cfg.ys;
  cfg.values.forEach((v, i) => {
    if (!v) return;
    shape(panelC, 'rect', cfg.prefix + '-bar', {x: x(i * sharedStep).toFixed(2), y: y(v).toFixed(2), width: '.78', height: (v * cfg.ys).toFixed(2), fill: '#86cdec'});
  });
  cfg.peakX.forEach((u, i) => {
    const v = cfg.peaks[i];
    shape(panelC, 'rect', cfg.prefix + '-peak-bar', {x: x(u).toFixed(2), y: y(v).toFixed(2), width: '.7', height: (v * cfg.ys).toFixed(2), fill: '#86cdec', 'fill-opacity': '.6'});
  });
  frame(panelC, cfg.prefix + '-spines', cfg.l, cfg.t, cfg.l + 154.5, cfg.y0, '#8a8a8a', .9);
  cfg.yTicks.forEach(v => {
    line(panelC, cfg.prefix + '-y-tick', cfg.l - 2.5, y(v), cfg.l, y(v), '#999', .6);
    label(panelC, cfg.prefix + '-y-tick-label', v.toFixed(cfg.digits), cfg.l - 3.5, y(v) + 3.6, 10, cfg.digits === 2 ? 15 : 11, 'end');
  });
  sharedTicks.forEach(u => {
    line(panelC, cfg.prefix + '-x-tick', x(u), cfg.y0, x(u), cfg.y0 + 2.5, '#999', .6);
    label(panelC, cfg.prefix + '-x-tick-label', String(u), x(u) + 4, cfg.y0 + 9, 9.5, String(u).length * 4.8, 'end', -50);
  });
  label(panelC, cfg.prefix + '-title', cfg.name, cfg.l + 77.3, cfg.t - 3.8, 15, cfg.titleLen);
}
scoreChart({prefix: 'maccs', name: 'MACCS', titleLen: 36, values: maccsScores, peakX: maccsPeakPairs, peaks: maccsPeaks, yTicks: maccsTicks, digits: 1, l: 26.7, t: 412.7, x0: 34.3, y0: 534, ys: 169});
scoreChart({prefix: 'morgan', name: 'Morgan', titleLen: 39, values: morganScores, peakX: morganPeakPairs, peaks: morganPeaks, yTicks: morganTicks, digits: 2, l: 211, t: 412.7, x0: 218.3, y0: 534, ys: 282.5});
scoreChart({prefix: 'rdkit', name: 'RDKIT', titleLen: 32, values: rdkitScores, peakX: rdkitPeakPairs, peaks: rdkitPeaks, yTicks: rdkitTicks, digits: 1, l: 26.7, t: 580, x0: 34.3, y0: 701, ys: 135.9});
scoreChart({prefix: 'pharm', name: 'Pharm', titleLen: 33, values: pharmScores, peakX: pharmPeakPairs, peaks: pharmPeaks, yTicks: pharmTicks, digits: 1, l: 211, t: 580, x0: 218.3, y0: 701, ys: 132});
label(panelC, 'maccs-y-axis-title', 'Mean similar score', 11.5, 473, 10.5, 103, 'middle', -90);
label(panelC, 'rdkit-y-axis-title', 'Mean similar score', 11.5, 640, 10.5, 103, 'middle', -90);
label(panelC, 'rdkit-x-axis-title', 'Number of shared ADRs for a drug pair', 104, 735.7, 10.5, 153);
label(panelC, 'pharm-x-axis-title', 'Number of shared ADRs for a drug pair', 289, 735.7, 10.5, 154);

/* Panel D: box plot */
const panelD = document.getElementById('panel-d');
const fpX = i => 489 + i * 67.6;
const fpY = v => 713.7 - v * 304.7;
fpGridLines.forEach(v => line(panelD, 'grid-line', 437.7, fpY(v), 743.3, fpY(v), '#bbb', .8, '2 2'));
function box(i, side, name, lo, q1, med, q3, hi, mean, fill, edge, medColor, dot) {
  const cx = fpX(i) + side * 17;
  line(panelD, name + '-whisker', cx, fpY(lo), cx, fpY(hi), '#aaa', 1);
  line(panelD, name + '-cap-low', cx - 6.3, fpY(lo), cx + 6.3, fpY(lo), '#aaa', .8);
  line(panelD, name + '-cap-high', cx - 6.3, fpY(hi), cx + 6.3, fpY(hi), '#aaa', .8);
  shape(panelD, 'rect', name + '-box', {x: cx - 15.3, y: fpY(q3), width: 30.6, height: fpY(q1) - fpY(q3), fill: fill, stroke: edge, 'stroke-width': .6});
  line(panelD, name + '-median', cx - 15.3, fpY(med), cx + 15.3, fpY(med), medColor, 1.5);
  shape(panelD, 'circle', name + '-mean', {cx: cx, cy: fpY(mean), r: dot, fill: '#000'});
}
fpCategories.forEach((c, i) => {
  const key = c.toLowerCase();
  box(i, -1, key + '-no-shared', noLo[i], noQ1[i], noMed[i], noQ3[i], noHi[i], noMean[i], '#ffcccc', '#ddbbbb', '#a00000', 1.5);
  box(i, 1, key + '-shared', yesLo[i], yesQ1[i], yesMed[i], yesQ3[i], yesHi[i], yesMean[i], '#99ccff', '#8fa8c0', '#0000a8', 2.5);
  line(panelD, key + '-x-tick', fpX(i), 713.7, fpX(i), 716.5, '#888', .7);
  label(panelD, key + '-x-tick-label', c, fpX(i), 729, 10, fpLabelWidths[i]);
});
frame(panelD, 'boxplot-spines', 437.7, 409, 743.3, 713.7, '#808080', 1);
fpTicks.forEach(v => {
  line(panelD, 'boxplot-y-tick', 435, fpY(v), 437.7, fpY(v), '#888', .7);
  label(panelD, 'boxplot-y-tick-label', v.toFixed(1), 434, fpY(v) + 3.6, 10, 12, 'end');
});
label(panelD, 'boxplot-y-axis-title', 'Similar scores of FP', 417.5, 560.7, 10, 108, 'middle', -90);
</script>
</body>
</html>
